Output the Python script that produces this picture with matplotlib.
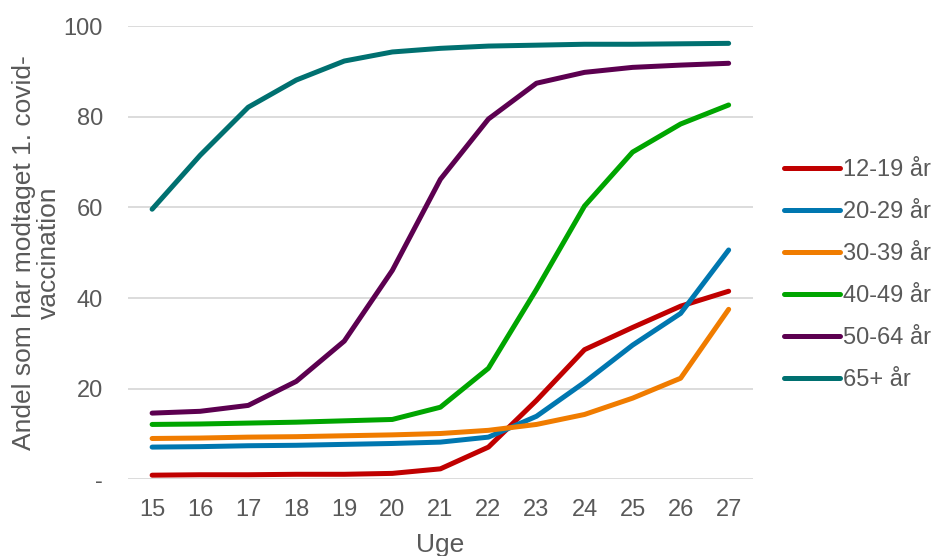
import numpy as np
import matplotlib.pyplot as plt
from matplotlib.ticker import FuncFormatter

plt.rcParams['font.family'] = ['Liberation Sans', 'DejaVu Sans']

uger = list(range(15, 28))
labels = ['12-19 år', '20-29 år', '30-39 år', '40-49 år', '50-64 år', '65+ år']
colors = ['#C00000', '#0077B0', '#F07C00', '#00A500', '#5C0050', '#007070']

v12_19 = [0.9, 1.0, 1.0, 1.1, 1.1, 1.3, 2.3, 7.1, 17.4, 28.6, 33.5, 38.2, 41.5]
v20_29 = [7.1, 7.2, 7.4, 7.5, 7.7, 7.9, 8.2, 9.3, 13.9, 21.4, 29.6, 36.6, 50.6]
v30_39 = [9.0, 9.1, 9.3, 9.4, 9.6, 9.8, 10.1, 10.8, 12.1, 14.3, 17.9, 22.3, 37.5]
v40_49 = [12.1, 12.2, 12.4, 12.6, 12.9, 13.2, 15.9, 24.5, 41.9, 60.3, 72.2, 78.4, 82.6]
v50_64 = [14.6, 15.0, 16.3, 21.6, 30.5, 46.1, 66.2, 79.5, 87.4, 89.8, 90.9, 91.4, 91.8]
v65 = [59.6, 71.5, 82.1, 88.1, 92.3, 94.3, 95.1, 95.6, 95.8, 96.0, 96.0, 96.1, 96.2]

series = [v12_19, v20_29, v30_39, v40_49, v50_64, v65]

fig = plt.figure(figsize=(9.35, 5.56), dpi=100)
ax = fig.add_axes([0.137, 0.138, 0.668, 0.815])

for vals, lab, c in zip(series, labels, colors):
    ax.plot(uger, vals, color=c, lw=3.6, label=lab, solid_capstyle='round')

ax.set_xlim(14.5, 27.5)
ax.set_ylim(0, 100)
ax.set_xticks(uger)
ax.set_yticks([0, 20, 40, 60, 80, 100])
ax.yaxis.set_major_formatter(FuncFormatter(lambda v, p: '-' if v == 0 else '%d' % v))
ax.grid(axis='y', color='#D9D9D9', lw=1.3)
ax.set_axisbelow(True)
for s in ax.spines.values():
    s.set_visible(False)
ax.tick_params(length=0, labelsize=17, colors='#595959')
ax.tick_params(axis='x', pad=14)
ax.tick_params(axis='y', pad=18)

ax.set_xlabel('Uge', fontsize=19, color='#595959', labelpad=9)
ax.set_ylabel('Andel som har modtaget 1. covid-\nvaccination', fontsize=19,
              color='#595959', labelpad=2, linespacing=1.05)

leg = ax.legend(loc='center left', bbox_to_anchor=(784 / 935, 1 - 275 / 556),
                bbox_transform=fig.transFigure, frameon=False,
                fontsize=17, handlelength=2.37, handletextpad=0.13,
                labelspacing=0.85, borderpad=0, borderaxespad=0)
for t in leg.get_texts():
    t.set_color('#595959')

fig.savefig('out.png', dpi=100)
